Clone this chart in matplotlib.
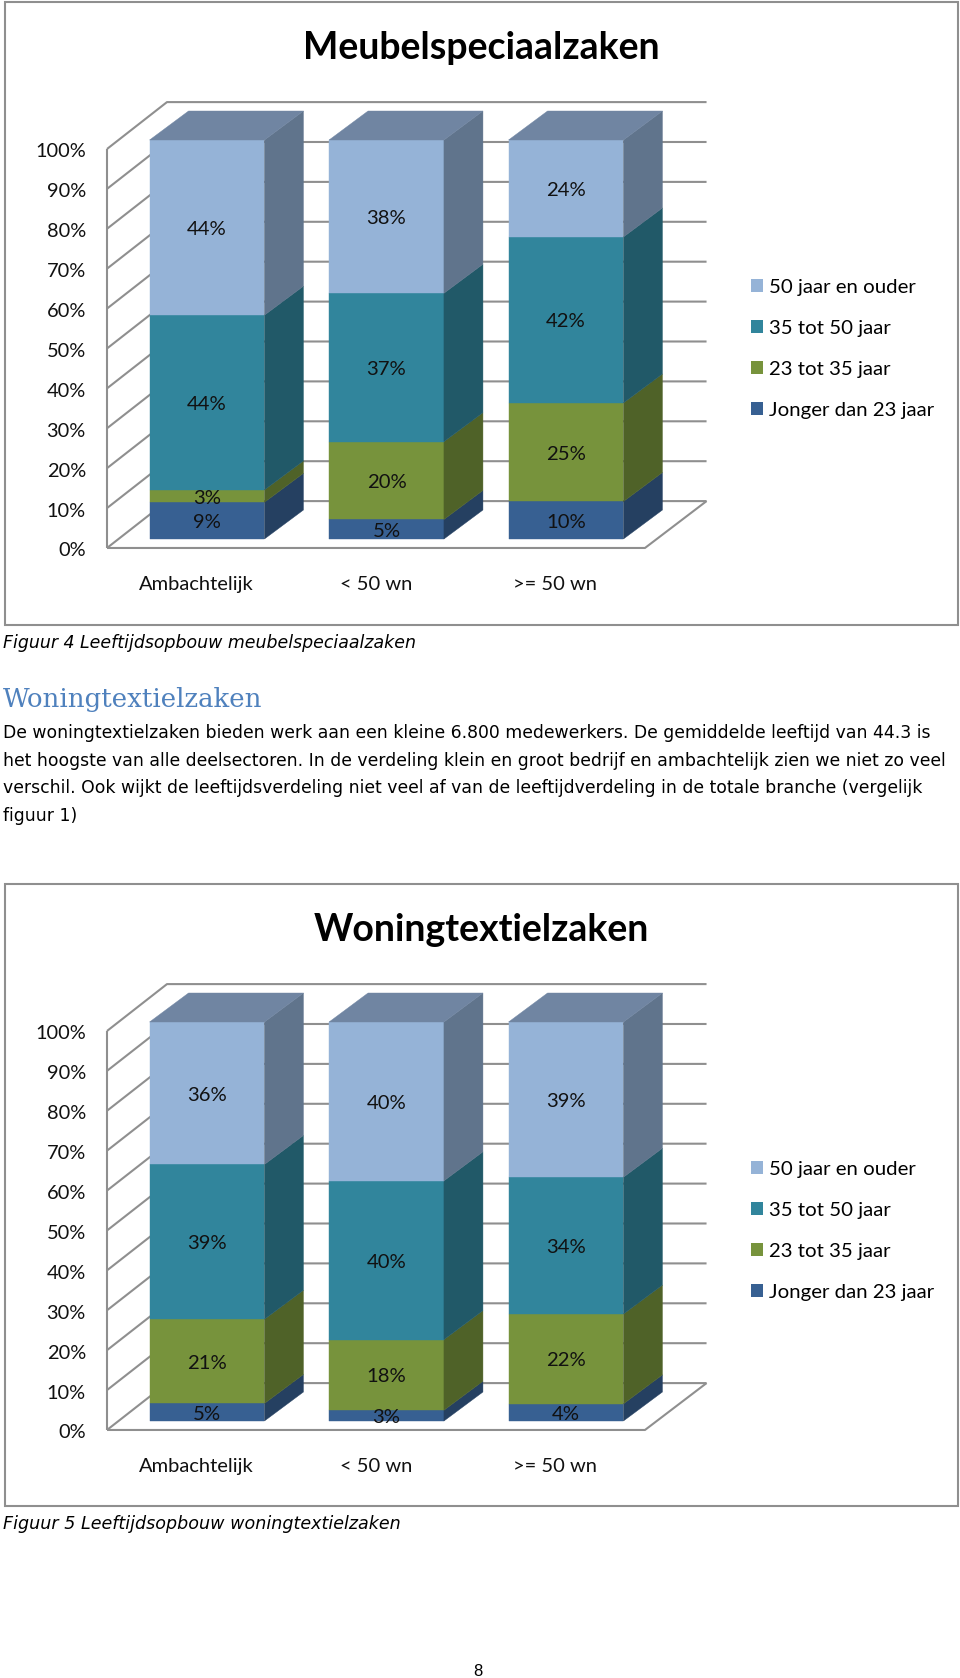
import matplotlib

matplotlib.use("Agg")
import matplotlib.pyplot as plt
from matplotlib.patches import Patch, Rectangle

CATEGORIES = ["Ambachtelijk", "< 50 wn", ">= 50 wn"]
SERIES = ["Jonger dan 23 jaar", "23 tot 35 jaar", "35 tot 50 jaar", "50 jaar en ouder"]
Y_TICKS = [0, 10, 20, 30, 40, 50, 60, 70, 80, 90, 100]

# Segment heights, bottom to top
MEUBEL_JONGER = [9.2, 4.9, 9.4]
MEUBEL_23_35 = [3.1, 19.5, 24.7]
MEUBEL_35_50 = [43.8, 37.2, 41.6]
MEUBEL_50_PLUS = [43.9, 38.4, 24.3]
MEUBEL_LABELS = [["9%", "5%", "10%"], ["3%", "20%", "25%"], ["44%", "37%", "42%"], ["44%", "38%", "24%"]]

WONING_JONGER = [4.4, 2.7, 4.3]
WONING_23_35 = [21.1, 17.7, 22.5]
WONING_35_50 = [38.8, 39.8, 34.3]
WONING_50_PLUS = [35.7, 39.8, 38.9]
WONING_LABELS = [["5%", "3%", "4%"], ["21%", "18%", "22%"], ["39%", "40%", "34%"], ["36%", "40%", "39%"]]

BODY_LINES = [
    "De woningtextielzaken bieden werk aan een kleine 6.800 medewerkers. De gemiddelde leeftijd van 44.3 is",
    "het hoogste van alle deelsectoren. In de verdeling klein en groot bedrijf en ambachtelijk zien we niet zo veel",
    "verschil. Ook wijkt de leeftijdsverdeling niet veel af van de leeftijdverdeling in de totale branche (vergelijk",
    "figuur 1)",
]

FRONT_COLORS = ["#376092", "#77933C", "#31859C", "#95B3D7"]
SIDE_COLORS = ["#254061", "#4F6228", "#215968", "#60748C"]
TOP_COLOR = "#7085A2"
GRID_COLOR = "#8F8F8F"
CHART_FONT = "Lato"
BODY_FONT = "DejaVu Sans"

WIDTH_PX = 960
HEIGHT_PX = 1678
CAT_PX = 179.5     # pixels between two categories
VALUE_PX = 3.99    # pixels per percent
BAR_WIDTH = 0.64
BAR_DX = 39 / CAT_PX
BAR_DY = 29 / VALUE_PX
TEXT_DROP = 0.5    # labels sit a little under the centre of their segment


def draw_chart(fig, top, bottom, title, series_values, series_labels):
    left, right = 5, 958
    base_y = top + 537
    axes_h = bottom - top
    ax = fig.add_axes([left / WIDTH_PX, 1 - bottom / HEIGHT_PX, (right - left) / WIDTH_PX, axes_h / HEIGHT_PX])
    ax.set_xlim((left - 207) / CAT_PX, (right - 207) / CAT_PX)
    ax.set_ylim((base_y - bottom) / VALUE_PX, (base_y - top) / VALUE_PX)
    ax.axis("off")

    ax.add_patch(Rectangle((0, 0), 1, 1, transform=ax.transAxes, facecolor="white",
                           edgecolor=GRID_COLOR, linewidth=1.5, zorder=0, clip_on=False))

    # walls and floor behind the bars
    wall_x0, wall_x1, wall_x2, floor_x = -0.557, -0.223, 2.783, 2.44
    front_dy, back_dy = -2.25, 9.5
    line = dict(color=GRID_COLOR, linewidth=1.5, zorder=1, solid_capstyle="butt")
    for tick in Y_TICKS:
        ax.plot([wall_x0, wall_x1, wall_x2], [tick + front_dy, tick + back_dy, tick + back_dy], **line)
        ax.text(-0.675, tick - 2.5 - TEXT_DROP, f"{tick}%", ha="right", va="center", fontsize=14.4,
                family=CHART_FONT, color="#111111")
    ax.plot([wall_x0, wall_x0], [front_dy, 100 + front_dy], **line)
    ax.plot([wall_x0, floor_x, wall_x2], [front_dy, front_dy, back_dy], **line)

    bottoms = [0.0, 0.0, 0.0]
    for values, labels, front, side in zip(series_values, series_labels, FRONT_COLORS, SIDE_COLORS):
        ax.bar(range(3), values, BAR_WIDTH, bottom=bottoms, color=front, edgecolor=front, linewidth=0.3, zorder=2)
        for i, value in enumerate(values):
            low = bottoms[i]
            high = low + value
            xr = i + BAR_WIDTH / 2
            ax.fill([xr, xr + BAR_DX, xr + BAR_DX, xr],
                    [low, low + BAR_DY, high + BAR_DY, high], color=side, linewidth=0.3, zorder=2)
            ax.text(i, low + value / 2 - TEXT_DROP, labels[i], ha="center", va="center", fontsize=14.6,
                    family=CHART_FONT, color="#111111", zorder=3)
            bottoms[i] = high

    for i, total in enumerate(bottoms):
        xl = i - BAR_WIDTH / 2
        xr = i + BAR_WIDTH / 2
        ax.fill([xl, xr, xr + BAR_DX, xl + BAR_DX],
                [total, total, total + BAR_DY, total + BAR_DY], color=TOP_COLOR, linewidth=0.3, zorder=2)
        ax.text(i - 0.06, -11.3, CATEGORIES[i], ha="center", va="center", fontsize=14.5,
                family=CHART_FONT, color="#111111")

    ax.text(0.5, 1 - 46 / axes_h, title, transform=ax.transAxes, ha="center", va="center",
            fontsize=27, fontweight="bold", family=CHART_FONT, color="black")

    handles = [Patch(facecolor=c, linewidth=0) for c in FRONT_COLORS[::-1]]
    ax.legend(handles, SERIES[::-1], loc="center left", frameon=False, handlelength=0.6, handleheight=0.6,
              handletextpad=0.26, labelspacing=1.17, borderpad=0, borderaxespad=0,
              bbox_to_anchor=((751 - left) / (right - left), 1 - 347 / axes_h),
              prop={"family": CHART_FONT, "size": 14.7})


def main():
    fig = plt.figure(figsize=(WIDTH_PX / 100, HEIGHT_PX / 100), dpi=100, facecolor="white")

    draw_chart(fig, 2, 625, "Meubelspeciaalzaken",
               [MEUBEL_JONGER, MEUBEL_23_35, MEUBEL_35_50, MEUBEL_50_PLUS], MEUBEL_LABELS)
    draw_chart(fig, 884, 1506, "Woningtextielzaken",
               [WONING_JONGER, WONING_23_35, WONING_35_50, WONING_50_PLUS], WONING_LABELS)

    page = fig.add_axes([0, 0, 1, 1])
    page.set_xlim(0, WIDTH_PX)
    page.set_ylim(HEIGHT_PX, 0)
    page.axis("off")
    page.patch.set_alpha(0)

    page.text(3, 643, "Figuur 4 Leeftijdsopbouw meubelspeciaalzaken", fontsize=12.5, style="italic",
              family=BODY_FONT, va="center", color="black")
    page.text(3, 700, "Woningtextielzaken", fontsize=18.7, family="DejaVu Serif", va="center", color="#4F81BD")
    for y, body_line in zip([733, 761, 788, 816], BODY_LINES):
        page.text(3, y, body_line, fontsize=12.4, family=BODY_FONT, va="center", color="black")
    page.text(3, 1524, "Figuur 5 Leeftijdsopbouw woningtextielzaken", fontsize=12.6, style="italic",
              family=BODY_FONT, va="center", color="black")
    page.text(478, 1671, "8", fontsize=12, family="Liberation Sans", ha="center", va="center", color="black")

    fig.savefig("out.png", dpi=100)
    plt.close(fig)


if __name__ == "__main__":
    main()
